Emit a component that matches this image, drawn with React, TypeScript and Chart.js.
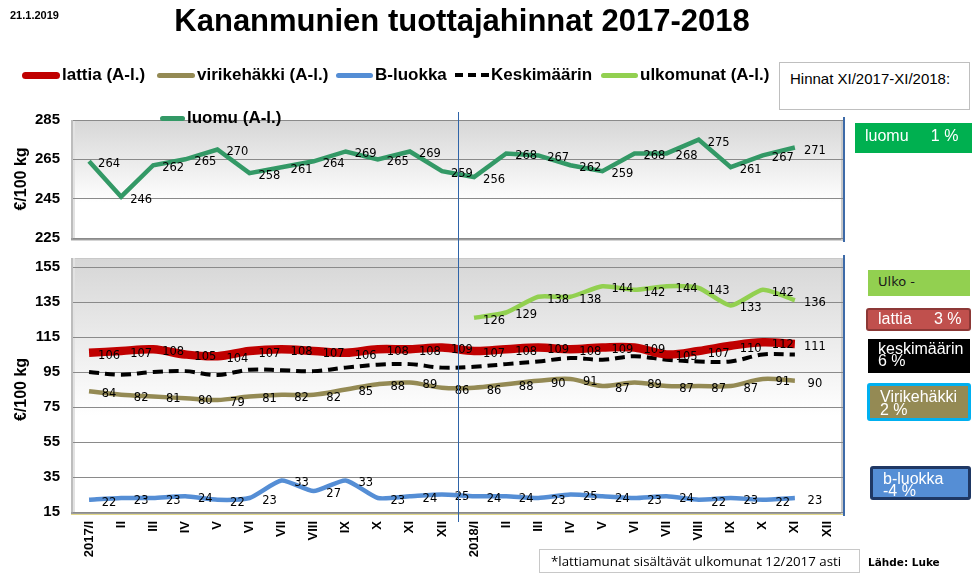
import React, { useEffect, useRef } from "react";
import { Chart, registerables } from "chart.js";
Chart.register(...registerables);

const W = 972;
const H = 576;

const categories = ["2017/I", "II", "III", "IV", "V", "VI", "VII", "VIII", "IX", "X", "XI", "XII", "2018/I", "II", "III", "IV", "V", "VI", "VII", "VIII", "IX", "X", "XI", "XII"];

const luomu = [264, 246, 262, 265, 270, 258, 261, 264, 269, 265, 269, 259, 256, 268, 267, 262, 259, 268, 268, 275, 261, 267, 271];
const lattia = [106, 107, 108, 105, 104, 107, 108, 107, 106, 108, 108, 109, 107, 108, 109, 108, 109, 109, 105, 107, 110, 112, 111];
const virikehakki = [84, 82, 81, 80, 79, 81, 82, 82, 85, 88, 89, 86, 86, 88, 90, 91, 87, 89, 87, 87, 87, 91, 90];
const bLuokka = [22, 23, 23, 24, 22, 23, 33, 27, 33, 23, 24, 25, 24, 24, 23, 25, 24, 23, 24, 22, 23, 22, 23];
const keskimaarin = [95, 93.5, 95, 95.5, 93.3, 96.3, 96, 95.5, 97.5, 99.2, 99.5, 97.5, 98, 99.5, 101, 103, 102, 104, 102, 101, 101, 105, 105];
const ulkomunat = [null, null, null, null, null, null, null, null, null, null, null, null, 126, 129, 138, 138, 144, 142, 144, 143, 133, 142, 136];

const topTicks = [225, 245, 265, 285];
const bottomTicks = [15, 35, 55, 75, 95, 115, 135, 155];

const FONT = '"Liberation Sans", Arial, sans-serif';

const panelPlugin = {
  id: "panelFrame",
  beforeDraw(chart: any, _args: any, opts: any) {
    const { ctx, chartArea: a } = chart;
    const top = a.top - (opts.extendTop || 0);
    const left = a.left;
    const right = a.right;
    const bottom = a.bottom;
    ctx.save();
    const g = ctx.createLinearGradient(0, top, 0, bottom);
    g.addColorStop(0, "#d6d6d6");
    g.addColorStop(opts.whiteAt || 0.65, "#ffffff");
    g.addColorStop(1, "#ffffff");
    ctx.fillStyle = g;
    ctx.fillRect(left, top, right - left, bottom - top);
    ctx.fillStyle = "#c8c8c8";
    ctx.fillRect(left, top, right - left, 1);
    ctx.fillStyle = "#bdbdbd";
    ctx.fillRect(left - 2, top, 2, bottom - top + 2);
    ctx.fillStyle = "#e2e2e2";
    ctx.fillRect(left, top, 2, bottom - top);
    ctx.fillStyle = "#9c9c9c";
    ctx.fillRect(left - 2, bottom, right - left + 2, 2);
    ctx.fillStyle = opts.bottomAccent || "#d4d4d4";
    ctx.fillRect(left - 2, bottom + 2, right - left + 2, 1);
    ctx.fillStyle = "#c9c9c9";
    ctx.fillRect(right - 2, top, 2, bottom - top + 2);
    ctx.fillStyle = "#3d6aa8";
    ctx.fillRect(right, top - 3, 2, bottom - top + 7);
    ctx.restore();
  },
};

const labelPlugin = {
  id: "valueLabels",
  afterDatasetsDraw(chart: any) {
    const ctx = chart.ctx;
    ctx.save();
    ctx.font = '11.5px "DejaVu Sans", Verdana, sans-serif';
    ctx.fillStyle = "#000";
    ctx.textAlign = "center";
    ctx.textBaseline = "middle";
    chart.data.datasets.forEach((ds: any, i: number) => {
      if (!ds.showLabels) return;
      const meta = chart.getDatasetMeta(i);
      meta.data.forEach((pt: any, j: number) => {
        const v = ds.data[j];
        if (v === null || v === undefined) return;
        ctx.fillText(String(v), pt.x + 20, pt.y + 3);
      });
    });
    ctx.restore();
  },
};

const dividerPlugin = {
  id: "yearDivider",
  afterDraw(chart: any) {
    const xs = chart.scales.x;
    const x = Math.round((xs.getPixelForTick(11) + xs.getPixelForTick(12)) / 2) + 0.5;
    const ctx = chart.ctx;
    ctx.save();
    ctx.strokeStyle = "#2f64a8";
    ctx.lineWidth = 1;
    ctx.beginPath();
    ctx.moveTo(x, 112);
    ctx.lineTo(x, 522);
    ctx.stroke();
    ctx.restore();
  },
};

const yTitle = {
  display: true,
  text: "€/100 kg",
  color: "#000",
  font: { family: FONT, size: 16, weight: "bold" as const },
  padding: { top: 12, bottom: 0 },
};

const yTicks = {
  color: "#000",
  font: { family: FONT, size: 15, weight: "bold" as const },
  padding: 13,
};

function LegendItem(props: { x: number; y: number; w: number; color: string; h: number; dashed?: boolean; text: string }) {
  const { x, y, w, color, h, dashed, text } = props;
  return (
    <>
      {dashed ? (
        <svg style={{ position: "absolute", left: x, top: y - 4, width: w, height: 8 }} width={w} height={8}>
          <line x1={0} y1={4} x2={w} y2={4} stroke={color} strokeWidth={4} strokeDasharray="8 5" />
        </svg>
      ) : (
        <div style={{ position: "absolute", left: x, top: y - h / 2, width: w, height: h, background: color, borderRadius: h / 2 }} />
      )}
      <div style={{ position: "absolute", left: x + w + 2, top: y - 10, lineHeight: "20px", fontSize: 17, fontWeight: "bold", whiteSpace: "nowrap" }}>{text}</div>
    </>
  );
}

function Box(props: { x: number; y: number; w: number; h: number; bg: string; border?: string; color: string; children: React.ReactNode; fontSize?: number; lh?: string; fam?: string; radius?: number }) {
  const { x, y, w, h, bg, border, color, children, fontSize, lh, fam, radius } = props;
  return (
    <div
      style={{
        position: "absolute",
        left: x,
        top: y,
        width: w,
        height: h,
        boxSizing: "border-box",
        background: bg,
        border: border || "none",
        borderRadius: radius || 0,
        color,
        fontSize: fontSize || 16,
        lineHeight: lh || "normal",
        fontFamily: fam || FONT,
        padding: "4px 0 0 10px",
        whiteSpace: "pre",
        overflow: "hidden",
      }}
    >
      {children}
    </div>
  );
}

export default function App() {
  const topRef = useRef<HTMLCanvasElement>(null);
  const botRef = useRef<HTMLCanvasElement>(null);

  useEffect(() => {
    const topChart = new Chart(topRef.current as HTMLCanvasElement, {
      type: "line",
      data: {
        labels: categories,
        datasets: [
          {
            label: "luomu (A-l.)",
            data: luomu,
            borderColor: "#339966",
            borderWidth: 4.5,
            pointRadius: 0,
            tension: 0,
            fill: false,
            showLabels: true,
          } as any,
        ],
      },
      options: {
        responsive: false,
        animation: false,
        layout: { padding: { top: 120, bottom: H - 238, left: 0, right: W - 843 } },
        plugins: {
          legend: { display: false },
          tooltip: { enabled: false },
          panelFrame: { extendTop: 0, whiteAt: 0.7 },
        } as any,
        scales: {
          x: { display: false, offset: true },
          y: {
            min: 225,
            max: 285,
            afterBuildTicks: (s: any) => {
              s.ticks = topTicks.map((v) => ({ value: v }));
            },
            afterFit: (s: any) => {
              s.width = 73;
            },
            ticks: yTicks,
            title: yTitle,
            grid: { color: "#8a8a8a", drawTicks: false },
            border: { display: false },
          },
        },
      },
      plugins: [panelPlugin, labelPlugin],
    });

    const botChart = new Chart(botRef.current as HTMLCanvasElement, {
      type: "line",
      data: {
        labels: categories,
        datasets: [
          { label: "lattia (A-l.)", data: lattia, borderColor: "#c00000", borderWidth: 8.5, tension: 0.35, showLabels: true } as any,
          { label: "ulkomunat (A-l.)", data: ulkomunat, borderColor: "#92d050", borderWidth: 4.5, tension: 0.2, showLabels: true } as any,
          { label: "Keskimäärin", data: keskimaarin, borderColor: "#000000", borderWidth: 4, borderDash: [10, 6], tension: 0.35, showLabels: false } as any,
          { label: "virikehäkki (A-l.)", data: virikehakki, borderColor: "#948a54", borderWidth: 4.5, tension: 0.35, showLabels: true } as any,
          { label: "B-luokka", data: bLuokka, borderColor: "#558ed5", borderWidth: 4.5, tension: 0.2, showLabels: true } as any,
        ].map((d) => ({ ...d, pointRadius: 0, fill: false })),
      },
      options: {
        responsive: false,
        animation: false,
        layout: { padding: { top: 267, bottom: 14, left: 0, right: W - 843 } },
        plugins: {
          legend: { display: false },
          tooltip: { enabled: false },
          panelFrame: { extendTop: 9, whiteAt: 0.62, bottomAccent: "#e3d98a" },
        } as any,
        scales: {
          x: {
            offset: true,
            afterFit: (s: any) => {
              s.height = 50;
            },
            grid: { display: false, drawTicks: false },
            border: { display: false },
            ticks: {
              autoSkip: false,
              minRotation: 90,
              maxRotation: 90,
              padding: 9,
              color: "#000",
              font: { family: FONT, size: 13, weight: "bold" },
            },
          },
          y: {
            min: 15,
            max: 155,
            afterBuildTicks: (s: any) => {
              s.ticks = bottomTicks.map((v) => ({ value: v }));
            },
            afterFit: (s: any) => {
              s.width = 73;
            },
            ticks: yTicks,
            title: yTitle,
            grid: { color: "#8a8a8a", drawTicks: false },
            border: { display: false },
          },
        },
      },
      plugins: [panelPlugin, labelPlugin, dividerPlugin],
    });

    return () => {
      topChart.destroy();
      botChart.destroy();
    };
  }, []);

  const legendY = 75;

  return (
    <div style={{ position: "absolute", left: 0, top: 0, width: W, height: H, overflow: "hidden", background: "#fff", fontFamily: FONT, color: "#000" }}>
      <canvas ref={topRef} width={W} height={H} style={{ position: "absolute", left: 0, top: 0, width: W, height: H }} />
      <canvas ref={botRef} width={W} height={H} style={{ position: "absolute", left: 0, top: 0, width: W, height: H }} />

      <div style={{ position: "absolute", left: 10, top: 9, fontSize: 11, fontWeight: "bold" }}>21.1.2019</div>
      <div style={{ position: "absolute", left: 0, top: 2, width: 924, textAlign: "center", fontSize: 31, fontWeight: "bold", lineHeight: "38px" }}>
        Kananmunien tuottajahinnat 2017-2018
      </div>

      <LegendItem x={22} y={legendY} w={38} h={7} color="#c00000" text="lattia (A-l.)" />
      <LegendItem x={157} y={legendY} w={38} h={5} color="#948a54" text="virikehäkki (A-l.)" />
      <LegendItem x={336} y={legendY} w={37} h={5} color="#558ed5" text="B-luokka" />
      <LegendItem x={455} y={legendY} w={34} h={4} color="#000" dashed text="Keskimäärin" />
      <LegendItem x={601} y={legendY} w={37} h={5} color="#92d050" text="ulkomunat (A-l.)" />
      <LegendItem x={160} y={118} w={25} h={5} color="#339966" text="luomu (A-l.)" />

      <div style={{ position: "absolute", left: 779, top: 62, width: 191, height: 48, boxSizing: "border-box", border: "1px solid #bfbfbf", background: "#fff", fontSize: 15, padding: "7px 0 0 10px", whiteSpace: "nowrap" }}>
        Hinnat XI/2017-XI/2018:
      </div>

      <Box x={855} y={123} w={117} h={30} bg="#00b050" color="#fff" fontSize={16}>{"luomu     1 %"}</Box>
      <Box x={868} y={270} w={102} h={26} bg="#92d050" color="#1a1a1a" fontSize={13} fam='"DejaVu Sans", Verdana, sans-serif'>{"Ulko -"}</Box>
      <Box x={866} y={308} w={105} h={23} bg="#c0504d" border="2px solid #8c3836" radius={3} color="#fff" fontSize={16}>
        <span style={{ position: "relative", top: -4 }}>{"lattia     3 %"}</span>
      </Box>
      <Box x={868} y={339} w={102} h={34} bg="#000" color="#fff" fontSize={16} lh="12px">{"keskimäärin\n6 %"}</Box>
      <Box x={867} y={383} w={104} h={38} bg="#948a54" border="3px solid #00b0f0" radius={3} color="#fff" fontSize={16} lh="13px">
        {"Virikehäkki\n2 %"}
      </Box>
      <Box x={870} y={466} w={101} h={34} bg="#558ed5" border="3px solid #1f3864" radius={3} color="#fff" fontSize={16} lh="12px">
        {"b-luokka\n-4 %"}
      </Box>

      <div style={{ position: "absolute", left: 539, top: 549, width: 321, height: 24, boxSizing: "border-box", border: "1px solid #c8c8c8", fontFamily: '"Open Sans", sans-serif', fontSize: 13.3, padding: "2px 0 0 11px", whiteSpace: "nowrap" }}>
        *lattiamunat sisältävät ulkomunat 12/2017 asti
      </div>
      <div style={{ position: "absolute", left: 868, top: 556, fontFamily: '"DejaVu Sans", sans-serif', fontSize: 10.5, fontWeight: "bold" }}>Lähde: Luke</div>
    </div>
  );
}
